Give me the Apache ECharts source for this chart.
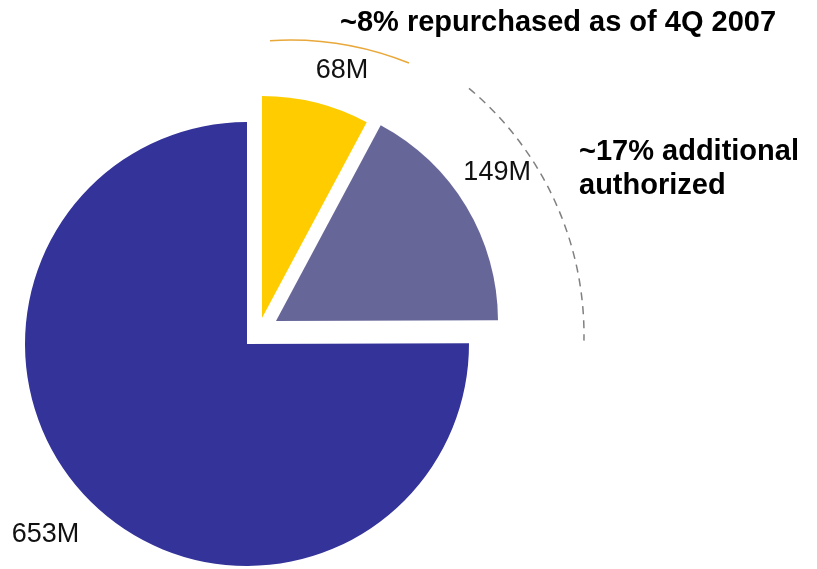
<!DOCTYPE html>
<html><head><meta charset="utf-8">
<script src="https://cdn.jsdelivr.net/npm/echarts@6/dist/echarts.min.js"></script>
<style>html,body{margin:0;padding:0;background:#fff}#c{width:817px;height:569px}</style>
</head><body><div id="c"></div>
<script>
// ---- data ----
const categories = ['Repurchased', 'Additional authorized', 'Outstanding'];
const values = [68, 149, 653];
const valueLabels = ['68M', '149M', '653M'];
const colors = ['#FFCC00', '#666699', '#333399'];
const annotations = ['~8% repurchased as of 4Q 2007', '~17% additional\nauthorized'];

// ---- layout ----
const FONT = '"Liberation Sans", Arial, Helvetica, sans-serif';
const R = 222;
const centers = [[262, 318], [276, 321], [247, 344]]; // exploded slices
const labelShift = [[-5, -13], [-20, -24], [3, 19]];

function sliceSeries(k) {
  return {
    type: 'pie', center: centers[k], radius: R, startAngle: 90, clockwise: true,
    animation: false, silent: true, avoidLabelOverlap: false,
    labelLine: { show: false, length: 20, length2: 0 },
    label: { position: 'outside', distanceToLabelLine: 0, fontFamily: FONT, fontSize: 27, color: '#111' },
    labelLayout: { dx: labelShift[k][0], dy: labelShift[k][1] },
    emphasis: { disabled: true },
    data: categories.map((name, i) => ({
      name: name, value: values[i],
      itemStyle: { color: i === k ? colors[i] : 'rgba(0,0,0,0)' },
      label: { show: i === k, formatter: valueLabels[i] }
    }))
  };
}

const deg = Math.PI / 180;
const chart = echarts.init(document.getElementById('c'), null, { renderer: 'canvas' });
chart.setOption({
  backgroundColor: '#ffffff',
  animation: false,
  title: [
    { text: annotations[0], left: 340, top: 6, padding: 0,
      textStyle: { fontFamily: FONT, fontSize: 29, fontWeight: 'bold', color: '#000', lineHeight: 34 } },
    { text: annotations[1], left: 579, top: 135, padding: 0,
      textStyle: { fontFamily: FONT, fontSize: 29, fontWeight: 'bold', color: '#000', lineHeight: 34 } }
  ],
  graphic: [
    { type: 'arc', silent: true,
      shape: { cx: 290, cy: 359, r: 319, startAngle: -93.6 * deg, endAngle: -68.1 * deg, clockwise: true },
      style: { stroke: '#E9A83A', lineWidth: 1.5, fill: null } },
    { type: 'arc', silent: true,
      shape: { cx: 262, cy: 335, r: 322, startAngle: -50 * deg, endAngle: 1 * deg, clockwise: true },
      style: { stroke: '#808080', lineWidth: 1.5, fill: null, lineDash: [8, 6] } }
  ],
  series: [sliceSeries(2), sliceSeries(0), sliceSeries(1)]
});
</script>
</body></html>
